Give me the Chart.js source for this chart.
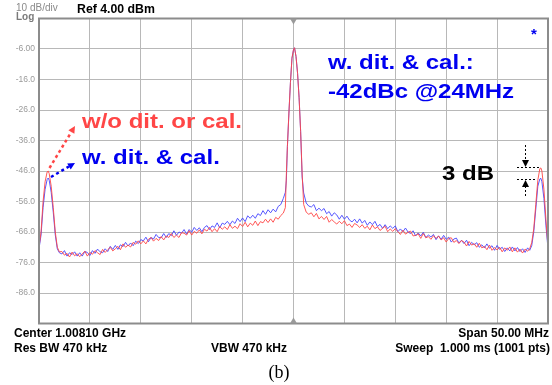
<!DOCTYPE html>
<html>
<head>
<meta charset="utf-8">
<script src="https://cdn.jsdelivr.net/npm/chart.js@4.4.1/dist/chart.umd.min.js"></script>
<style>
  html, body { margin: 0; padding: 0; background: #fff; }
  #wrap { width: 552px; height: 385px; }
</style>
</head>
<body>
<div id="wrap"><canvas id="spec" width="552" height="385"></canvas></div>
<script>
// frequency offset from center (MHz), span 50 MHz
const freqs = [
    -25, -24.8, -24.6, -24.4, -24.2, -24.1, -24.0, -23.8, -23.6, -23.4, -23.2, -23.0,
    -22.75, -22.5, -22.25, -22, -21.75, -21.5, -21.25, -21, -20.75, -20.5,
    -20.25, -20, -19.75, -19.5, -19.25, -19, -18.75, -18.5, -18.25, -18,
    -17.75, -17.5, -17.25, -17, -16.75, -16.5, -16.25, -16, -15.75, -15.5,
    -15.25, -15, -14.75, -14.5, -14.25, -14, -13.75, -13.5, -13.25, -13,
    -12.75, -12.5, -12.25, -12, -11.75, -11.5, -11.25, -11, -10.75, -10.5,
    -10.25, -10, -9.75, -9.5, -9.25, -9, -8.75, -8.5, -8.25, -8,
    -7.75, -7.5, -7.25, -7, -6.75, -6.5, -6.25, -6, -5.75, -5.5,
    -5.25, -5, -4.75, -4.5, -4.25, -4, -3.75, -3.5, -3.25, -3,
    -2.75, -2.5, -2.25, -2, -1.75, -1.5,
    -1.25, -1.0, -0.8, -0.7, -0.6, -0.45, -0.3, -0.15, 0, 0.1, 0.25, 0.4, 0.55, 0.7, 0.85, 1.0, 1.25, 1.5,
    1.75, 2, 2.25, 2.5, 2.75, 3, 3.25, 3.5, 3.75, 4,
    4.25, 4.5, 4.75, 5, 5.25, 5.5, 5.75, 6, 6.25, 6.5,
    6.75, 7, 7.25, 7.5, 7.75, 8, 8.25, 8.5, 8.75, 9,
    9.25, 9.5, 9.75, 10, 10.25, 10.5, 10.75, 11, 11.25, 11.5,
    11.75, 12, 12.25, 12.5, 12.75, 13, 13.25, 13.5, 13.75, 14,
    14.25, 14.5, 14.75, 15, 15.25, 15.5, 15.75, 16, 16.25, 16.5,
    16.75, 17, 17.25, 17.5, 17.75, 18, 18.25, 18.5, 18.75, 19,
    19.25, 19.5, 19.75, 20, 20.25, 20.5, 20.75, 21, 21.25, 21.5,
    21.75, 22, 22.25, 22.5, 22.75, 23,
    23.2, 23.4, 23.6, 23.8, 24.0, 24.2, 24.3, 24.4, 24.6, 24.8, 25.0
];

// w/o dithering or calibration (dBm)
const redTrace = [
    -71, -66, -56, -49.5, -46.3, -46, -46.8, -51, -58, -66, -71, -72.5,
    -72.4, -73.6, -73.0, -74.2, -72.6, -73.8, -73.1, -74.1, -73.2, -72.3,
    -73.9, -72.7, -73.3, -72.1, -72.8, -73.4, -71.7, -72.7, -71.8, -71.0,
    -72.2, -71.5, -70.7, -71.8, -69.9, -71.0, -70.3, -70.9, -69.4, -70.0,
    -68.9, -69.9, -68.9, -69.9, -68.4, -67.8, -69.0, -68.1, -68.8, -67.5,
    -68.6, -67.3, -67.8, -66.5, -67.8, -67.0, -67.8, -66.2, -66.4, -67.0,
    -65.6, -67.0, -65.8, -66.4, -65.3, -66.6, -65.1, -65.7, -64.5, -65.9,
    -64.9, -65.9, -64.2, -65.1, -64.3, -65.2, -63.6, -64.8, -64.1, -64.9,
    -63.3, -64.2, -62.8, -64.3, -63.1, -63.8, -62.4, -63.9, -62.6, -63.0,
    -61.8, -62.9, -61.7, -62.8, -61.2, -61.8,
    -60.6, -59.8, -58.0, -47, -38, -27, -17, -9, -6.2, -5.6, -8.5, -14, -22, -33, -47, -57, -59.5, -60.2,
    -59.7, -61.0, -59.9, -61.7, -60.9, -61.9, -60.9, -62.8, -61.9, -62.7,
    -63.4, -62.5, -63.3, -62.3, -63.9, -63.4, -64.5, -63.2, -63.7, -64.5,
    -63.6, -64.8, -64.1, -65.3, -63.7, -64.9, -64.3, -65.5, -64.8, -64.1,
    -65.9, -65.0, -65.8, -64.9, -65.9, -66.8, -65.4, -66.7, -66.1, -65.7,
    -67.3, -67.1, -66.6, -68.1, -66.5, -67.9, -67.5, -68.4, -67.2, -68.1,
    -67.3, -68.6, -67.9, -69.3, -68.1, -67.9, -69.4, -68.8, -69.8, -68.8,
    -69.3, -70.6, -69.1, -70.3, -69.8, -71.0, -69.7, -71.2, -70.7, -71.8,
    -70.3, -72.0, -71.1, -71.9, -71.0, -72.5, -71.2, -72.0, -70.9, -72.5,
    -71.2, -72.6, -71.6, -72.9, -71.6, -72.3,
    -71.5, -69.5, -65, -57, -49, -45.2, -45, -46, -52, -62, -71
];

// with dithering and calibration (dBm)
const blueTrace = [
    -71.5, -67, -58, -52, -48.8, -48.3, -49, -53, -59.5, -67, -71.5, -72.8,
    -73.2, -72.1, -73.9, -72.8, -73.4, -72.5, -73.9, -72.8, -73.9, -72.4,
    -72.7, -73.7, -72.1, -73.0, -71.6, -72.5, -72.8, -71.5, -72.4, -70.7,
    -71.7, -70.4, -71.7, -70.2, -70.8, -69.4, -70.6, -69.6, -70.5, -69.0,
    -69.8, -68.5, -68.9, -67.7, -69.2, -67.8, -68.3, -66.8, -67.8, -67.9,
    -66.5, -67.8, -66.5, -67.2, -65.6, -67.1, -66.0, -66.4, -65.2, -66.7,
    -65.2, -66.1, -64.5, -65.5, -64.6, -65.9, -64.5, -63.9, -65.2, -64.0,
    -64.5, -63.0, -64.6, -63.1, -63.5, -62.5, -63.6, -62.4, -63.2, -61.5,
    -62.6, -61.4, -62.6, -60.7, -61.5, -60.5, -61.5, -60.0, -60.6, -59.0,
    -60.2, -58.7, -59.7, -58.5, -59.4, -57.6,
    -57.0, -55.0, -53.0, -49, -38, -27, -17, -9, -6.2, -5.6, -8.5, -14, -22, -33, -48, -53.2, -56.5, -57.5,
    -57.8, -57.0, -59.0, -58.2, -59.0, -58.3, -60.0, -59.3, -60.8, -59.7,
    -60.4, -61.8, -60.5, -61.8, -60.8, -62.1, -62.7, -61.8, -63.0, -61.7,
    -63.1, -62.2, -63.8, -62.7, -63.6, -62.5, -64.2, -63.5, -64.8, -63.6,
    -64.9, -64.0, -64.8, -64.0, -65.9, -65.0, -65.9, -64.7, -66.0, -66.5,
    -65.6, -67.3, -66.3, -67.3, -66.1, -67.8, -67.0, -67.6, -66.8, -68.5,
    -67.3, -68.4, -67.1, -68.4, -67.7, -69.3, -68.3, -68.0, -69.6, -68.7,
    -69.8, -68.7, -70.5, -69.4, -70.2, -69.5, -71.0, -70.2, -71.2, -69.9,
    -71.3, -70.5, -72.0, -70.4, -71.7, -71.0, -72.4, -71.2, -72.2, -70.9,
    -72.2, -71.1, -72.4, -71.5, -72.7, -71.2,
    -72, -70.5, -66, -58.5, -51, -48.6, -48.4, -49.5, -55, -64, -71.5
];

const yTicks = [4, -6, -16, -26, -36, -46, -56, -66, -76, -86, -96];
const xTicks = [-25, -20, -15, -10, -5, 0, 5, 10, 15, 20, 25];

const SANS = "'Liberation Sans', Arial, sans-serif";
const RED = "#ff4646";
const BLUE = "#0000f0";

function stretchText(ctx, txt, x, y, font, color, sx, align) {
    ctx.save();
    ctx.font = font;
    ctx.fillStyle = color;
    ctx.textBaseline = "middle";
    ctx.textAlign = align || "left";
    ctx.translate(x, y);
    ctx.scale(sx, 1);
    ctx.fillText(txt, 0, 0);
    ctx.restore();
}

function dottedArrow(ctx, x1, y1, x2, y2, color, width, head) {
    const ang = Math.atan2(y2 - y1, x2 - x1);
    const bx = x2 - head * Math.cos(ang);
    const by = y2 - head * Math.sin(ang);
    ctx.save();
    ctx.strokeStyle = color;
    ctx.fillStyle = color;
    ctx.lineWidth = width;
    ctx.setLineDash([3, 3]);
    ctx.beginPath();
    ctx.moveTo(x1, y1);
    ctx.lineTo(bx, by);
    ctx.stroke();
    ctx.setLineDash([]);
    ctx.beginPath();
    ctx.moveTo(x2, y2);
    ctx.lineTo(bx + head * 0.5 * Math.sin(ang), by - head * 0.5 * Math.cos(ang));
    ctx.lineTo(bx - head * 0.5 * Math.sin(ang), by + head * 0.5 * Math.cos(ang));
    ctx.closePath();
    ctx.fill();
    ctx.restore();
}

function dottedLine(ctx, x1, y1, x2, y2) {
    ctx.save();
    ctx.strokeStyle = "#000";
    ctx.lineWidth = 1;
    ctx.setLineDash([2, 2]);
    ctx.beginPath();
    ctx.moveTo(x1, y1);
    ctx.lineTo(x2, y2);
    ctx.stroke();
    ctx.restore();
}

const analyzerDecor = {
    id: "analyzerDecor",
    afterDatasetsDraw(chart) {
        const ctx = chart.ctx;
        const a = chart.chartArea;
        const cx = chart.scales.x.getPixelForValue(0);

        // frame
        ctx.save();
        ctx.strokeStyle = "#8c8c8c";
        ctx.lineWidth = 2;
        ctx.strokeRect(a.left, a.top, a.right - a.left, a.bottom - a.top);

        // center markers
        ctx.fillStyle = "#9a9a9a";
        ctx.beginPath();
        ctx.moveTo(cx - 3.5, a.top);
        ctx.lineTo(cx + 3.5, a.top);
        ctx.lineTo(cx, a.top + 6);
        ctx.fill();
        ctx.beginPath();
        ctx.moveTo(cx - 3.5, a.bottom);
        ctx.lineTo(cx + 3.5, a.bottom);
        ctx.lineTo(cx, a.bottom - 6);
        ctx.fill();
        ctx.restore();

        // header
        stretchText(ctx, "10 dB/div", 16, 8, "10px " + SANS, "#8a8a8a", 1, "left");
        stretchText(ctx, "Log", 16, 17, "bold 10px " + SANS, "#7a7a7a", 1, "left");
        stretchText(ctx, "Ref 4.00 dBm", 77, 10, "bold 12.3px " + SANS, "#000", 1, "left");
        stretchText(ctx, "*", 534, 35, "bold 15px " + SANS, BLUE, 1, "center");

        // annotations
        stretchText(ctx, "w. dit. & cal.:", 328, 63, "bold 20px " + SANS, BLUE, 1.2, "left");
        stretchText(ctx, "-42dBc @24MHz", 328, 92, "bold 20px " + SANS, BLUE, 1.2, "left");
        stretchText(ctx, "w/o dit. or cal.", 82, 122, "bold 20px " + SANS, RED, 1.2, "left");
        stretchText(ctx, "w. dit. & cal.", 82, 158, "bold 20px " + SANS, BLUE, 1.2, "left");
        dottedArrow(ctx, 49.5, 168, 75, 126, RED, 2.5, 7);
        dottedArrow(ctx, 51, 177, 75, 163, BLUE, 2.5, 7);

        stretchText(ctx, "3 dB", 442, 174, "bold 20px " + SANS, "#000", 1.2, "left");
        dottedLine(ctx, 517, 167.5, 541, 167.5);
        dottedLine(ctx, 517, 179.5, 535, 179.5);
        ctx.save();
        ctx.strokeStyle = "#000";
        ctx.lineWidth = 1;
        ctx.setLineDash([2, 2]);
        ctx.beginPath();
        ctx.moveTo(525.5, 145);
        ctx.lineTo(525.5, 161);
        ctx.moveTo(525.5, 196);
        ctx.lineTo(525.5, 186);
        ctx.stroke();
        ctx.setLineDash([]);
        ctx.fillStyle = "#000";
        ctx.beginPath();
        ctx.moveTo(522, 160);
        ctx.lineTo(529, 160);
        ctx.lineTo(525.5, 167);
        ctx.fill();
        ctx.beginPath();
        ctx.moveTo(522, 187);
        ctx.lineTo(529, 187);
        ctx.lineTo(525.5, 180);
        ctx.fill();
        ctx.restore();

        // footer
        const ff = "bold 12px " + SANS;
        stretchText(ctx, "Center 1.00810 GHz", 14, 333.5, ff, "#000", 1, "left");
        stretchText(ctx, "Span 50.00 MHz", 549, 333.5, ff, "#000", 1, "right");
        stretchText(ctx, "Res BW 470 kHz", 14, 349, ff, "#000", 1, "left");
        stretchText(ctx, "VBW 470 kHz", 211, 349, ff, "#000", 1, "left");
        stretchText(ctx, "Sweep  1.000 ms (1001 pts)", 550, 349, ff, "#000", 1, "right");
        stretchText(ctx, "(b)", 279, 373, "18px 'Liberation Serif', 'Times New Roman', serif", "#000", 1, "center");
    }
};

const ctx = document.getElementById("spec").getContext("2d");
new Chart(ctx, {
    type: "line",
    data: {
        datasets: [
            {
                label: "w/o dit. or cal.",
                data: freqs.map((f, i) => ({ x: f, y: redTrace[i] })),
                borderColor: "rgba(255, 70, 70, 0.9)",
                borderWidth: 1,
                pointRadius: 0,
                tension: 0,
            },
            {
                label: "w. dit. & cal.",
                data: freqs.map((f, i) => ({ x: f, y: blueTrace[i] })),
                borderColor: "rgba(70, 70, 255, 0.9)",
                borderWidth: 1,
                pointRadius: 0,
                tension: 0,
            },
        ],
    },
    options: {
        responsive: false,
        animation: false,
        layout: { padding: { left: 0, right: 4, top: 18.5, bottom: 61.5 } },
        plugins: {
            legend: { display: false },
            tooltip: { enabled: false },
        },
        scales: {
            x: {
                type: "linear",
                min: -25,
                max: 25,
                afterBuildTicks: (s) => { s.ticks = xTicks.map(v => ({ value: v })); },
                afterFit: (s) => { s.height = 0; },
                ticks: { display: false },
                grid: { color: "#b8b8b8", drawTicks: false },
                border: { display: false },
            },
            y: {
                min: -96,
                max: 4,
                afterBuildTicks: (s) => { s.ticks = yTicks.map(v => ({ value: v })); },
                afterFit: (s) => { s.width = 39; },
                ticks: {
                    color: "#9a9a9a",
                    padding: 4,
                    font: { family: SANS, size: 8.5 },
                    callback: (v) => {
                        if (v === 4 || v === -96) return "";
                        return v === -6 ? "-6.00" : v.toFixed(1);
                    },
                },
                grid: { color: "#b8b8b8", drawTicks: false },
                border: { display: false },
            },
        },
    },
    plugins: [analyzerDecor],
});
</script>
</body>
</html>
